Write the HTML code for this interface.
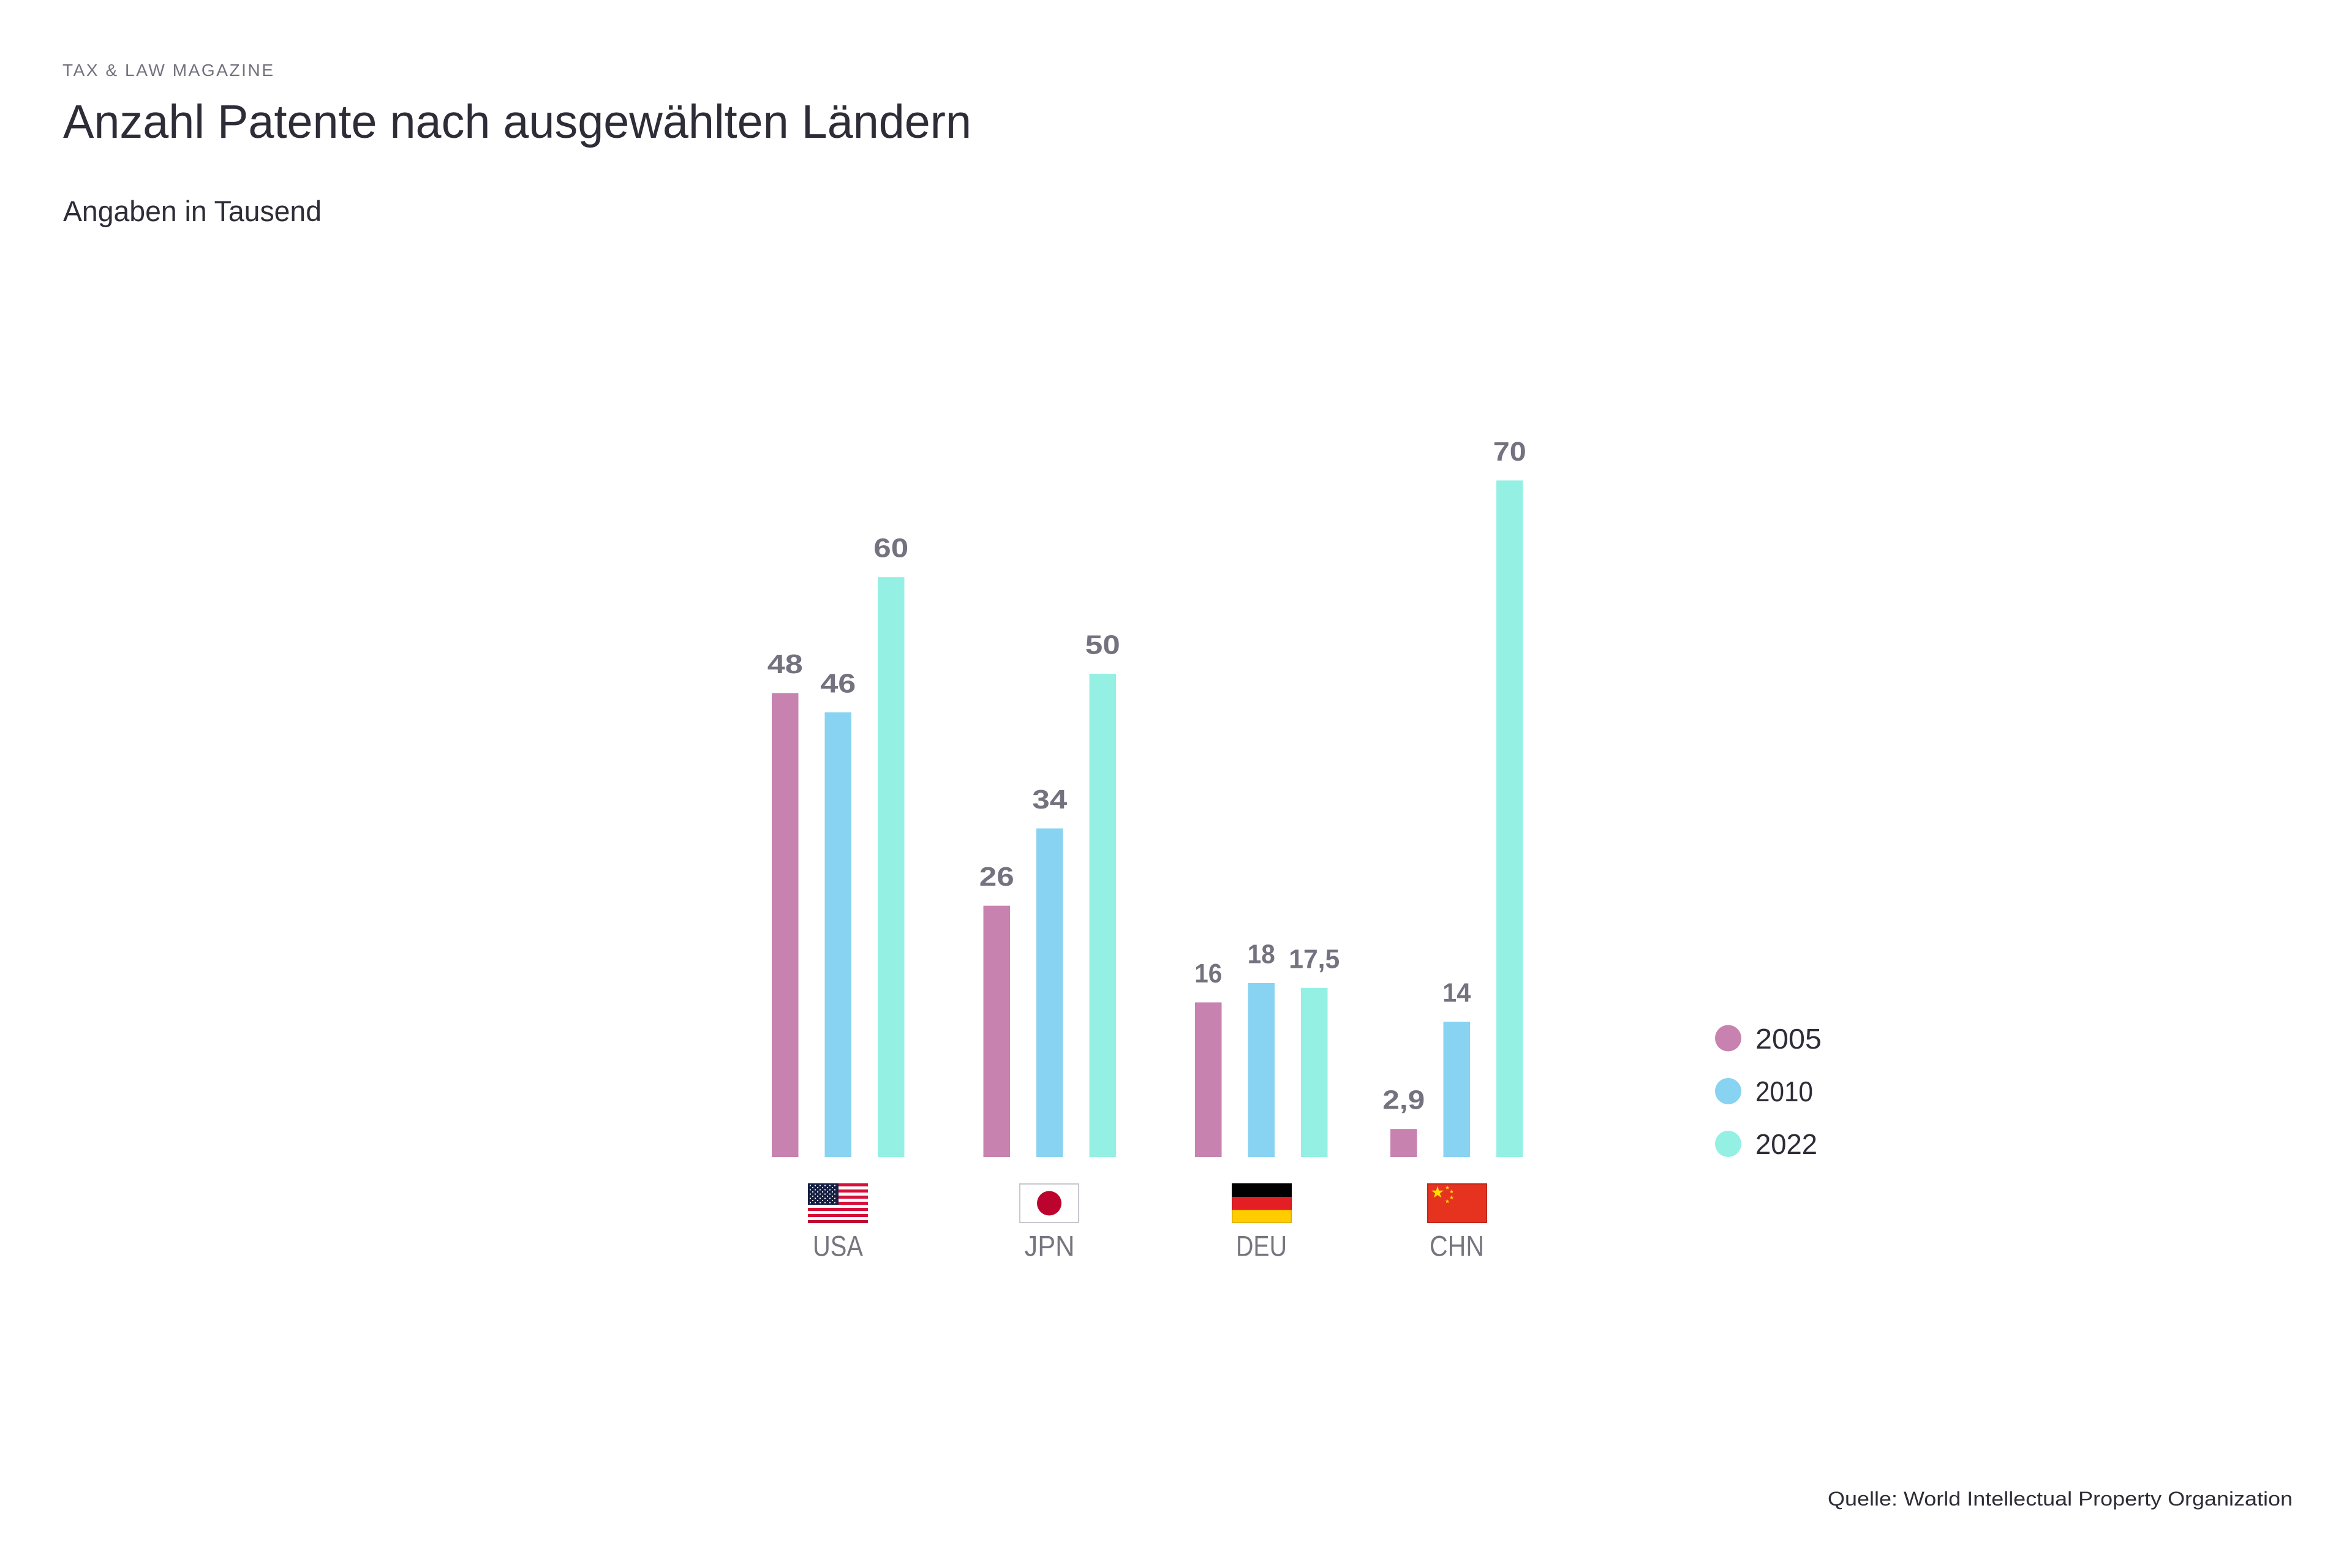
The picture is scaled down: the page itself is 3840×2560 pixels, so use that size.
<!DOCTYPE html>
<html>
<head>
<meta charset="utf-8">
<style>
html,body{margin:0;padding:0;background:#ffffff;}
svg{display:block;}
text{font-family:"Liberation Sans",Arial,sans-serif;}
</style>
</head>
<body>
<svg width="3840" height="2560" viewBox="0 0 3840 2560" xmlns="http://www.w3.org/2000/svg">
<rect x="0" y="0" width="3840" height="2560" fill="#ffffff"/>

<!-- Header -->
<text x="102" y="124" font-size="28" fill="#72717d" textLength="344" lengthAdjust="spacing">TAX &amp; LAW MAGAZINE</text>
<text x="103" y="225" font-size="77" fill="#2d2c37" textLength="1483" lengthAdjust="spacingAndGlyphs">Anzahl Patente nach ausgewählten Ländern</text>
<text x="103" y="361" font-size="47" fill="#2d2c37" textLength="422" lengthAdjust="spacingAndGlyphs">Angaben in Tausend</text>

<!-- Bars -->
<g>
<!-- USA -->
<rect x="1260" y="1131.6" width="43.5" height="757.4" fill="#c882b0"/>
<rect x="1346.5" y="1163.1" width="43.5" height="725.9" fill="#88d3f1"/>
<rect x="1433" y="942.2" width="43.5" height="946.8" fill="#95f0e4"/>
<!-- JPN -->
<rect x="1605.5" y="1478.7" width="43.5" height="410.3" fill="#c882b0"/>
<rect x="1692" y="1352.5" width="43.5" height="536.5" fill="#88d3f1"/>
<rect x="1778.5" y="1100" width="43.5" height="789" fill="#95f0e4"/>
<!-- DEU -->
<rect x="1951" y="1636.5" width="43.5" height="252.5" fill="#c882b0"/>
<rect x="2037.5" y="1605" width="43.5" height="284" fill="#88d3f1"/>
<rect x="2124" y="1612.8" width="43.5" height="276.2" fill="#95f0e4"/>
<!-- CHN -->
<rect x="2270" y="1843.2" width="43.5" height="45.8" fill="#c882b0"/>
<rect x="2356.5" y="1668.1" width="43.5" height="220.9" fill="#88d3f1"/>
<rect x="2443" y="784.4" width="43.5" height="1104.6" fill="#95f0e4"/>
</g>

<!-- Value labels -->
<g font-size="44" font-weight="bold" fill="#74727f">
<text x="1252.75" y="1099.1" textLength="58" lengthAdjust="spacingAndGlyphs">48</text>
<text x="1339.25" y="1130.6" textLength="58" lengthAdjust="spacingAndGlyphs">46</text>
<text x="1426.25" y="909.7" textLength="57" lengthAdjust="spacingAndGlyphs">60</text>

<text x="1598.75" y="1446.2" textLength="57" lengthAdjust="spacingAndGlyphs">26</text>
<text x="1685.25" y="1320" textLength="57" lengthAdjust="spacingAndGlyphs">34</text>
<text x="1771.75" y="1067.5" textLength="57" lengthAdjust="spacingAndGlyphs">50</text>

<text x="1950.25" y="1604" textLength="45" lengthAdjust="spacingAndGlyphs">16</text>
<text x="2036.75" y="1572.5" textLength="45" lengthAdjust="spacingAndGlyphs">18</text>
<text x="2104.25" y="1580.3" textLength="83" lengthAdjust="spacingAndGlyphs">17,5</text>

<text x="2257.25" y="1810.7" textLength="69" lengthAdjust="spacingAndGlyphs">2,9</text>
<text x="2355.25" y="1635.6" textLength="46" lengthAdjust="spacingAndGlyphs">14</text>
<text x="2437.75" y="751.9" textLength="54" lengthAdjust="spacingAndGlyphs">70</text>
</g>

<!-- Flags -->
<!-- USA -->
<g>
<rect x="1319" y="1932" width="98" height="65" fill="#ffffff"/>
<rect x="1319" y="1932" width="98" height="5" fill="#d70e3a"/>
<rect x="1319" y="1942" width="98" height="5" fill="#d70e3a"/>
<rect x="1319" y="1952" width="98" height="5" fill="#d70e3a"/>
<rect x="1319" y="1962" width="98" height="5" fill="#d70e3a"/>
<rect x="1319" y="1972" width="98" height="5" fill="#d70e3a"/>
<rect x="1319" y="1982" width="98" height="5" fill="#d70e3a"/>
<rect x="1319" y="1992" width="98" height="5" fill="#c00a32"/>
<rect x="1319" y="1932" width="50" height="35" fill="#162043"/>
<g fill="#ffffff">
<circle cx="1323" cy="1935.5" r="1.1"/><circle cx="1331" cy="1935.5" r="1.1"/><circle cx="1339" cy="1935.5" r="1.1"/><circle cx="1347" cy="1935.5" r="1.1"/><circle cx="1355" cy="1935.5" r="1.1"/><circle cx="1363" cy="1935.5" r="1.1"/>
<circle cx="1327" cy="1939" r="1.1"/><circle cx="1335" cy="1939" r="1.1"/><circle cx="1343" cy="1939" r="1.1"/><circle cx="1351" cy="1939" r="1.1"/><circle cx="1359" cy="1939" r="1.1"/>
<circle cx="1323" cy="1942.5" r="1.1"/><circle cx="1331" cy="1942.5" r="1.1"/><circle cx="1339" cy="1942.5" r="1.1"/><circle cx="1347" cy="1942.5" r="1.1"/><circle cx="1355" cy="1942.5" r="1.1"/><circle cx="1363" cy="1942.5" r="1.1"/>
<circle cx="1327" cy="1946" r="1.1"/><circle cx="1335" cy="1946" r="1.1"/><circle cx="1343" cy="1946" r="1.1"/><circle cx="1351" cy="1946" r="1.1"/><circle cx="1359" cy="1946" r="1.1"/>
<circle cx="1323" cy="1949.5" r="1.1"/><circle cx="1331" cy="1949.5" r="1.1"/><circle cx="1339" cy="1949.5" r="1.1"/><circle cx="1347" cy="1949.5" r="1.1"/><circle cx="1355" cy="1949.5" r="1.1"/><circle cx="1363" cy="1949.5" r="1.1"/>
<circle cx="1327" cy="1953" r="1.1"/><circle cx="1335" cy="1953" r="1.1"/><circle cx="1343" cy="1953" r="1.1"/><circle cx="1351" cy="1953" r="1.1"/><circle cx="1359" cy="1953" r="1.1"/>
<circle cx="1323" cy="1956.5" r="1.1"/><circle cx="1331" cy="1956.5" r="1.1"/><circle cx="1339" cy="1956.5" r="1.1"/><circle cx="1347" cy="1956.5" r="1.1"/><circle cx="1355" cy="1956.5" r="1.1"/><circle cx="1363" cy="1956.5" r="1.1"/>
<circle cx="1327" cy="1960" r="1.1"/><circle cx="1335" cy="1960" r="1.1"/><circle cx="1343" cy="1960" r="1.1"/><circle cx="1351" cy="1960" r="1.1"/><circle cx="1359" cy="1960" r="1.1"/>
<circle cx="1323" cy="1963.5" r="1.1"/><circle cx="1331" cy="1963.5" r="1.1"/><circle cx="1339" cy="1963.5" r="1.1"/><circle cx="1347" cy="1963.5" r="1.1"/><circle cx="1355" cy="1963.5" r="1.1"/><circle cx="1363" cy="1963.5" r="1.1"/>
</g>
</g>
<!-- JPN -->
<g>
<rect x="1665" y="1933" width="96" height="63" fill="#ffffff" stroke="#c8c8cd" stroke-width="2"/>
<circle cx="1713" cy="1964.5" r="20" fill="#bc032e"/>
</g>
<!-- DEU -->
<g>
<rect x="2011" y="1932" width="98" height="22" fill="#000000"/>
<rect x="2011" y="1954" width="98" height="21.5" fill="#e31e24"/>
<rect x="2011" y="1975.5" width="98" height="21.5" fill="#ffcc00"/>
<rect x="2011.75" y="1932.75" width="96.5" height="63.5" fill="none" stroke="#000" stroke-opacity="0.15" stroke-width="1.5"/>
</g>
<!-- CHN -->
<g>
<rect x="2331" y="1933" width="96" height="63" fill="#e5331f" stroke="#c4271b" stroke-width="2"/>
<g fill="#ffdf00">
<polygon transform="translate(2347,1947) scale(10.5)" points="0,-1 0.2245,-0.309 0.951,-0.309 0.363,0.118 0.588,0.809 0,0.382 -0.588,0.809 -0.363,0.118 -0.951,-0.309 -0.2245,-0.309"/>
<polygon transform="translate(2363,1939) scale(3.6)" points="0,-1 0.2245,-0.309 0.951,-0.309 0.363,0.118 0.588,0.809 0,0.382 -0.588,0.809 -0.363,0.118 -0.951,-0.309 -0.2245,-0.309"/>
<polygon transform="translate(2370,1945.5) scale(3.6)" points="0,-1 0.2245,-0.309 0.951,-0.309 0.363,0.118 0.588,0.809 0,0.382 -0.588,0.809 -0.363,0.118 -0.951,-0.309 -0.2245,-0.309"/>
<polygon transform="translate(2370,1955) scale(3.6)" points="0,-1 0.2245,-0.309 0.951,-0.309 0.363,0.118 0.588,0.809 0,0.382 -0.588,0.809 -0.363,0.118 -0.951,-0.309 -0.2245,-0.309"/>
<polygon transform="translate(2363,1961.5) scale(3.6)" points="0,-1 0.2245,-0.309 0.951,-0.309 0.363,0.118 0.588,0.809 0,0.382 -0.588,0.809 -0.363,0.118 -0.951,-0.309 -0.2245,-0.309"/>
</g>
</g>

<!-- Category labels -->
<g font-size="47" fill="#76757f">
<text x="1327" y="2050.5" textLength="82" lengthAdjust="spacingAndGlyphs">USA</text>
<text x="1672.5" y="2050.5" textLength="82" lengthAdjust="spacingAndGlyphs">JPN</text>
<text x="2018" y="2050.5" textLength="83" lengthAdjust="spacingAndGlyphs">DEU</text>
<text x="2334" y="2050.5" textLength="89" lengthAdjust="spacingAndGlyphs">CHN</text>
</g>

<!-- Legend -->
<circle cx="2821.5" cy="1695" r="21.5" fill="#c882b0"/>
<circle cx="2821.5" cy="1781.5" r="21.5" fill="#88d3f1"/>
<circle cx="2821.5" cy="1867.5" r="21.5" fill="#95f0e4"/>
<g font-size="46" fill="#2d2c37">
<text x="2866" y="1712" textLength="108" lengthAdjust="spacingAndGlyphs">2005</text>
<text x="2866" y="1798" textLength="94" lengthAdjust="spacingAndGlyphs">2010</text>
<text x="2866" y="1884" textLength="101" lengthAdjust="spacingAndGlyphs">2022</text>
</g>

<!-- Source -->
<text x="2984" y="2458" font-size="32" fill="#2d2c37" textLength="759" lengthAdjust="spacingAndGlyphs">Quelle: World Intellectual Property Organization</text>
</svg>
</body>
</html>
